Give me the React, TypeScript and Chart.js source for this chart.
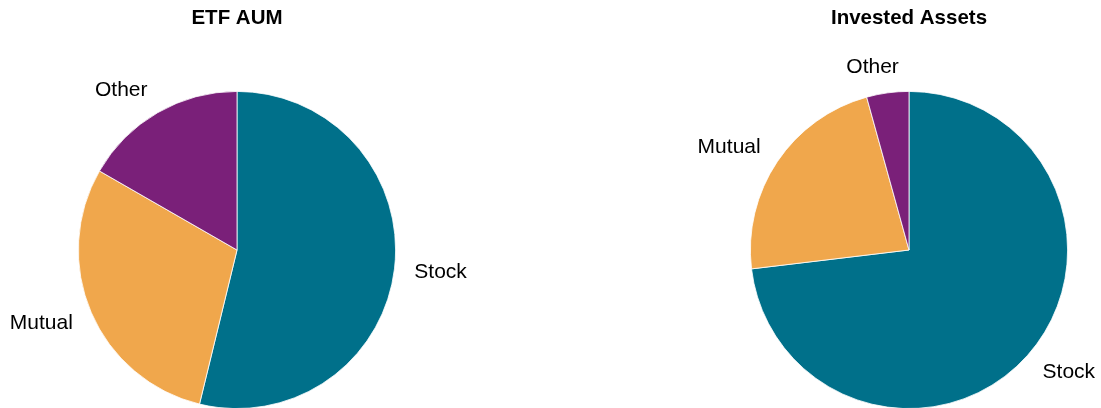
import React, { useEffect, useRef } from "react";
import { Chart, registerables } from "chart.js";

Chart.register(...registerables);

const categories = ["Stock", "Mutual", "Other"];
const etfAumValues = [53.8, 29.5, 16.7];
const investedAssetsValues = [73.1, 22.6, 4.3];
const sliceColors = ["#00708A", "#F0A74C", "#7A2079"];
const chartTitles = ["ETF AUM", "Invested Assets"];

const FONT = "'Liberation Sans', Arial, Helvetica, sans-serif";

const labelPlugin = {
  id: "outsideLabels",
  afterDraw(chart: any, _args: any, opts: any) {
    const ctx = chart.ctx;
    const area = chart.chartArea;
    ctx.save();
    // title
    ctx.fillStyle = "#000";
    ctx.font = `bold 20.5px ${FONT}`;
    ctx.textAlign = "center";
    ctx.textBaseline = "middle";
    ctx.fillText(opts.title, (area.left + area.right) / 2, 18);
    // labels
    const meta = chart.getDatasetMeta(0);
    ctx.font = `21px ${FONT}`;
    meta.data.forEach((arc: any, i: number) => {
      const p = arc.getProps(["x", "y", "startAngle", "endAngle", "outerRadius"], true);
      const mid = (p.startAngle + p.endAngle) / 2;
      const cx = Math.cos(mid);
      const cy = Math.sin(mid);
      const r = p.outerRadius + 20;
      const label = chart.data.labels[i];
      const w = ctx.measureText(label).width;
      const h = 12;
      const a = (w / 2) * Math.min(1, 3.5 * Math.abs(cx)) * Math.sign(cx);
      const x = p.x + cx * r + a;
      const y = p.y + cy * r + cy * (h / 2);
      ctx.fillText(label, x, y);
    });
    ctx.restore();
  },
};

function PieChart(props: {
  values: number[];
  title: string;
  left: number;
  width: number;
  padLeft: number;
  padRight: number;
}) {
  const ref = useRef<HTMLCanvasElement>(null);
  useEffect(() => {
    if (!ref.current) return;
    const chart = new Chart(ref.current, {
      type: "pie",
      data: {
        labels: categories,
        datasets: [
          {
            data: props.values,
            backgroundColor: sliceColors,
            borderColor: "#ffffff",
            borderWidth: 0.8,
          },
        ],
      },
      options: {
        animation: false,
        responsive: false,
        maintainAspectRatio: false,
        layout: {
          padding: { top: 91, bottom: 11, left: props.padLeft, right: props.padRight },
        },
        plugins: {
          legend: { display: false },
          tooltip: { enabled: false },
          title: { display: false },
          outsideLabels: { title: props.title },
        } as any,
      },
      plugins: [labelPlugin],
    });
    return () => chart.destroy();
  }, []);
  return (
    <canvas
      ref={ref}
      width={props.width}
      height={420}
      style={{ position: "absolute", left: props.left, top: 0, width: props.width, height: 420 }}
    />
  );
}

export default function App() {
  return (
    <div
      style={{
        position: "fixed",
        left: 0,
        top: 0,
        width: 1101,
        height: 408,
        overflow: "hidden",
        background: "#fff",
      }}
    >
      <PieChart values={etfAumValues} title={chartTitles[0]} left={0} width={550} padLeft={0} padRight={76} />
      <PieChart values={investedAssetsValues} title={chartTitles[1]} left={600} width={501} padLeft={117} padRight={0} />
    </div>
  );
}
